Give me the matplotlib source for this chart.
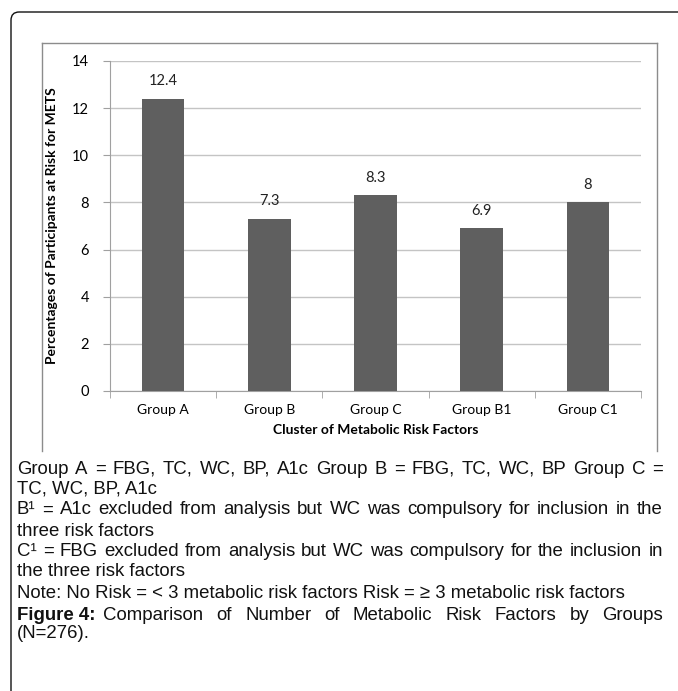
import matplotlib.pyplot as plt
from matplotlib.patches import FancyBboxPatch
from matplotlib.lines import Line2D
import numpy as np

groups = ["Group A", "Group B", "Group C", "Group B1", "Group C1"]
values = [12.4, 7.3, 8.3, 6.9, 8]
value_labels = ["12.4", "7.3", "8.3", "6.9", "8"]
yticks = [0, 2, 4, 6, 8, 10, 12, 14]

# (text, justified?)
caption_lines = [
    ("Group A = FBG, TC, WC, BP, A1c  Group B = FBG, TC, WC, BP  Group C =", True),
    ("TC, WC, BP, A1c", False),
    ("B\u00b9 = A1c excluded from analysis but WC was compulsory for inclusion in the", True),
    ("three risk factors", False),
    ("C\u00b9 =  FBG excluded from analysis but WC was compulsory for the inclusion in", True),
    ("the three risk factors", False),
    ("Note: No Risk = < 3 metabolic risk factors Risk = \u2265 3 metabolic risk factors", False),
]
fig_title = "Figure 4:"
fig_caption = "Comparison of Number of Metabolic Risk Factors by Groups"
fig_caption2 = "(N=276)."

W, H = 678, 691
fig = plt.figure(figsize=(W / 100, H / 100), dpi=100)


def fx(px):
    return px / W


def fy(py):
    return 1 - py / H


# outer rounded frame (only left/top visible)
frame = FancyBboxPatch((fx(11), fy(760)), fx(720), fy(12) - fy(760),
                       boxstyle="round,pad=0,rounding_size=0.012",
                       transform=fig.transFigure, fill=False,
                       edgecolor="#111111", linewidth=1.0)
fig.patches.append(frame)

# chart box
box_col = "#8c8c8c"
fig.add_artist(Line2D([fx(42), fx(657)], [fy(43), fy(43)], color=box_col, lw=1.0))
fig.add_artist(Line2D([fx(42), fx(42)], [fy(43), fy(451)], color=box_col, lw=1.0))
fig.add_artist(Line2D([fx(657), fx(657)], [fy(43), fy(451)], color=box_col, lw=1.0))

ax = fig.add_axes([fx(110), fy(391), fx(641) - fx(110), fy(61) - fy(391)])
x = np.arange(len(groups))
ax.bar(x, values, width=0.4, color="#5f5f5f", zorder=3)
for xi, v, lab in zip(x, values, value_labels):
    ax.text(xi, v + 0.45, lab, ha="center", va="bottom", fontsize=10.5,
            family="Lato", color="#222222")

ax.set_xlim(-0.5, len(groups) - 0.5)
ax.set_ylim(0, 14)
ax.set_yticks(yticks)
ax.set_yticklabels([str(t) for t in yticks], family="Lato", fontsize=10.5)
ax.yaxis.grid(True, color="#c4c4c4", lw=1.0, zorder=0)
ax.set_xticks(x)
ax.set_xticklabels(groups, family="Lato", fontsize=10)
ax.set_xticks(np.arange(-0.5, len(groups)), minor=True)
ax.tick_params(axis="x", which="major", length=0, pad=9)
ax.tick_params(axis="x", which="minor", length=5, color="#a0a0a0")
ax.tick_params(axis="y", length=5, color="#a0a0a0", pad=10)
for s in ["top", "right"]:
    ax.spines[s].set_visible(False)
ax.spines["left"].set_color("#a0a0a0")
ax.spines["bottom"].set_color("#a0a0a0")
ax.set_ylabel("Percentages of Participants at Risk for METS", family="Lato",
              fontweight="bold", fontsize=10, labelpad=10)
ax.set_xlabel("Cluster of Metabolic Risk Factors", family="Lato",
              fontweight="bold", fontsize=10, labelpad=6)

cap_font = ["Liberation Sans", "DejaVu Sans"]
cap_size = 13.4
x_left, x_right = 17, 663
renderer = fig.canvas.get_renderer()


def put_line(text, ypix, justify, start=x_left, weight="normal"):
    words = text.split()
    if not justify:
        return fig.text(fx(start), fy(ypix), text, family=cap_font, fontsize=cap_size,
                        fontweight=weight, va="center", ha="left", color="#111111")
    arts = [fig.text(0, fy(ypix), w, family=cap_font, fontsize=cap_size,
                     va="center", ha="left", color="#111111") for w in words]
    widths = [a.get_window_extent(renderer).width for a in arts]
    gap = (x_right - start - sum(widths)) / (len(words) - 1)
    pos = start
    for a, w in zip(arts, widths):
        a.set_x(fx(pos))
        pos += w + gap


ys = [469, 489.5, 510, 531, 551.5, 572, 593]
for (line, just), yy in zip(caption_lines, ys):
    put_line(line, yy, just)

t = put_line(fig_title, 615, False, weight="bold")
bb = t.get_window_extent(renderer)
put_line(fig_caption, 615, True, start=bb.x1 + 8)
put_line(fig_caption2, 634, False)

fig.savefig("out.png", dpi=100)
